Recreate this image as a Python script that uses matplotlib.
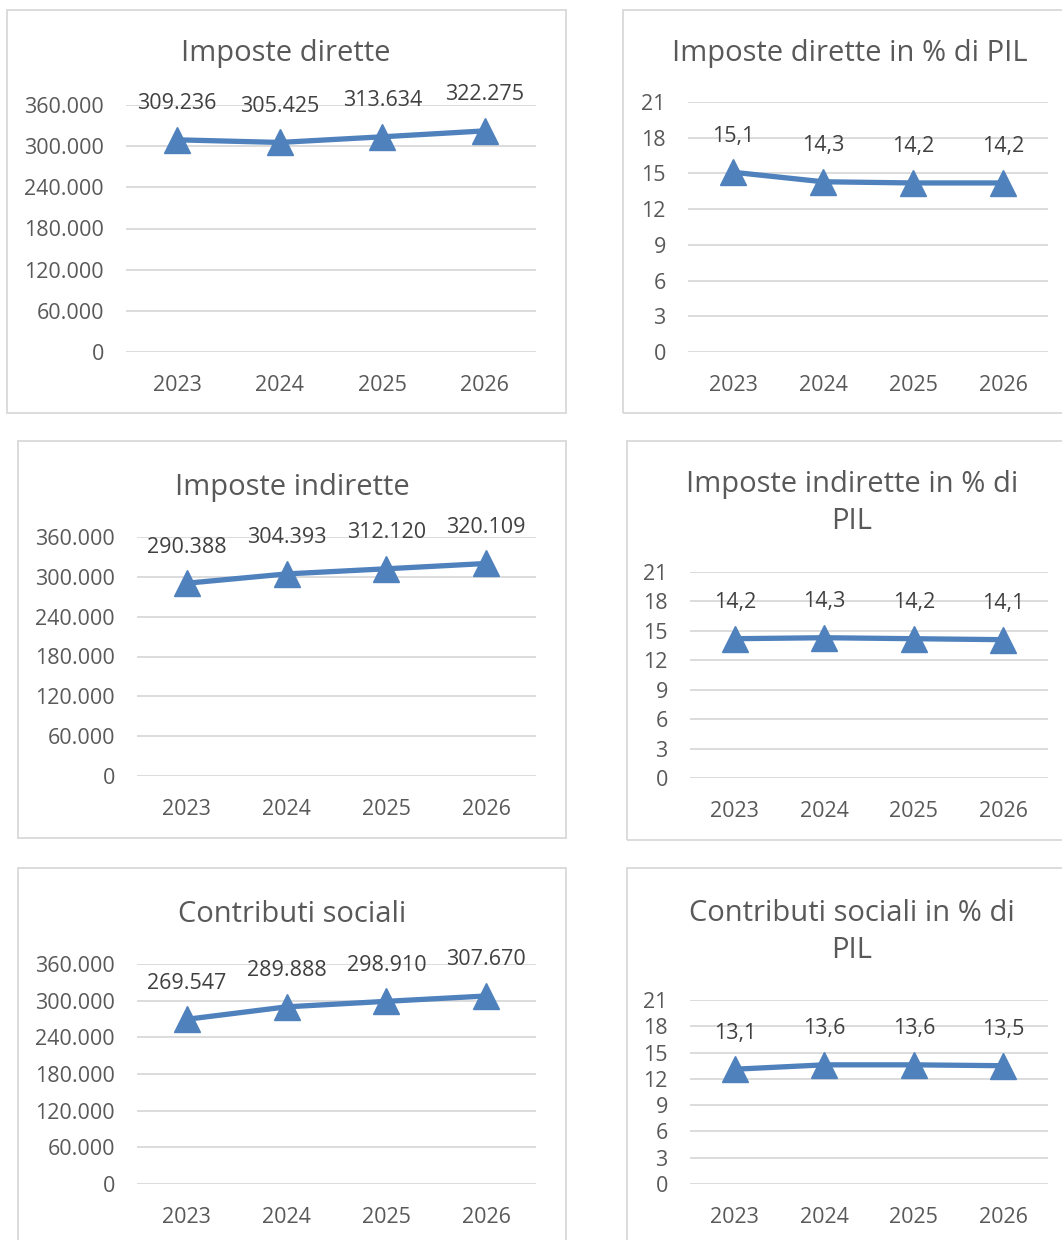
#!/usr/bin/env python3

import matplotlib
matplotlib.use("Agg")
import matplotlib.pyplot as plt
from matplotlib.patches import Rectangle
from matplotlib.ticker import FuncFormatter

W, H = 1062, 1240

anni = ["2023", "2024", "2025", "2026"]

imposte_dirette = [309236, 305425, 313634, 322275]
imposte_dirette_pil = [15.1, 14.3, 14.2, 14.2]
imposte_indirette = [290388, 304393, 312120, 320109]
imposte_indirette_pil = [14.2, 14.3, 14.2, 14.1]
contributi_sociali = [269547, 289888, 298910, 307670]
contributi_sociali_pil = [13.1, 13.6, 13.6, 13.5]

titoli = ["Imposte dirette", "Imposte dirette in % di PIL",
          "Imposte indirette", "Imposte indirette in % di\nPIL",
          "Contributi sociali", "Contributi sociali in % di\nPIL"]

BLU = "#4F81BD"
GRIGIO = "#595959"
GRIGLIA = "#D9D9D9"

plt.rcParams["font.family"] = ["Open Sans", "DejaVu Sans"]


def migliaia(v, _=None):
    return f"{int(round(v)):,}".replace(",", ".")


def percento(v):
    return f"{v:.1f}".replace(".", ",")


def px_rect(x0, y0, x1, y1):
    return [x0 / W, 1 - y1 / H, (x1 - x0) / W, (y1 - y0) / H]


fig = plt.figure(figsize=(W / 100, H / 100), dpi=100)

# riquadro, area del grafico, centro x e y del titolo (pixel)
pannelli = [
    ((7, 10, 566, 413), (126, 105, 536, 352), 286, 54, imposte_dirette, True),
    ((623, 10, 1075, 413), (688, 102, 1048, 352), 850, 54, imposte_dirette_pil, False),
    ((18, 441, 566, 838), (137, 537, 536, 776), 292, 487, imposte_indirette, True),
    ((627, 441, 1075, 840), (690, 572, 1048, 778), 852, 503, imposte_indirette_pil, False),
    ((18, 868, 566, 1255), (137, 964, 536, 1184), 292, 914, contributi_sociali, True),
    ((627, 868, 1075, 1255), (690, 1000, 1048, 1184), 852, 932, contributi_sociali_pil, False),
]

for (box, area, tx, ty, valori, assoluti), titolo in zip(pannelli, titoli):
    bx0, by0, bx1, by1 = box
    fig.patches.append(Rectangle((bx0 / W, 1 - by1 / H), (bx1 - bx0) / W, (by1 - by0) / H,
                                 transform=fig.transFigure, fill=False,
                                 edgecolor=GRIGLIA, linewidth=1.3))
    fig.text(tx / W, 1 - ty / H, titolo, ha="center", va="center",
             fontsize=21, color=GRIGIO, linespacing=1.33)

    ax = fig.add_axes(px_rect(*area))
    x = range(len(anni))
    ax.plot(x, valori, color=BLU, linewidth=3.8, marker="^", markersize=19,
            zorder=3, clip_on=False)
    ax.set_xlim(-0.5, 3.5)
    if assoluti:
        ax.set_ylim(0, 360000)
        ax.set_yticks(range(0, 360001, 60000))
        ax.yaxis.set_major_formatter(FuncFormatter(migliaia))
        etichette = [migliaia(v) for v in valori]
    else:
        ax.set_ylim(0, 21)
        ax.set_yticks(range(0, 22, 3))
        etichette = [percento(v) for v in valori]
    ax.set_xticks(list(x))
    ax.set_xticklabels(anni)
    ax.grid(axis="y", color=GRIGLIA, linewidth=1.3)
    ax.set_axisbelow(True)
    for s in ax.spines.values():
        s.set_visible(False)
    ax.tick_params(length=0, labelsize=15.5, colors=GRIGIO)
    ax.tick_params(axis="x", pad=16.5)
    ax.tick_params(axis="y", pad=16)
    for xi, v, t in zip(x, valori, etichette):
        ax.annotate(t, (xi, v), xytext=(0, 26), textcoords="offset points",
                    ha="center", va="center", fontsize=15.5, color="#404040")

fig.savefig("out.png", dpi=100, facecolor="white")
